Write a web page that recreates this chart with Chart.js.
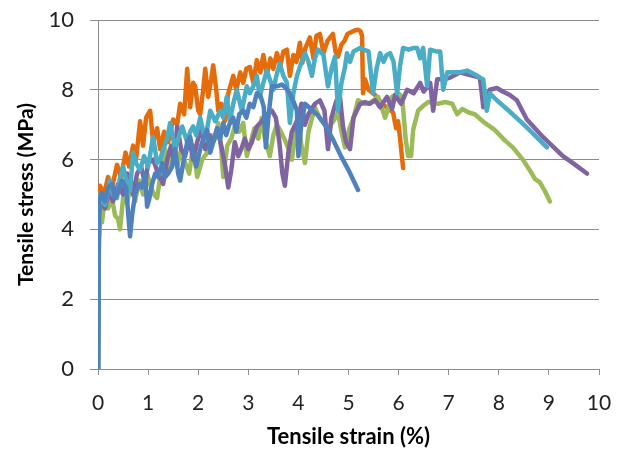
<!DOCTYPE html>
<html>
<head>
<meta charset="utf-8">
<script src="https://cdn.jsdelivr.net/npm/chart.js@4/dist/chart.umd.min.js"></script>
<style>
  html, body { margin: 0; padding: 0; background: #fff; }
  #wrap { width: 626px; height: 456px; }
</style>
</head>
<body>
<div id="wrap"><canvas id="chart" width="626" height="456"></canvas></div>
<script>
// Axis ranges and ticks
const strainTicks = [0, 1, 2, 3, 4, 5, 6, 7, 8, 9, 10];
const stressTicks = [0, 2, 4, 6, 8, 10];

// Series values: [strain %, stress MPa]
const orangeSeries = [
  [0, 0], [0.02, 5.0], [0.04, 5.25], [0.12, 5.0], [0.2, 5.5], [0.28, 5.2], [0.38, 5.85], [0.46, 5.5],
  [0.55, 6.2], [0.62, 5.8], [0.7, 6.4], [0.76, 6.0], [0.84, 7.1], [0.9, 6.4], [0.96, 7.2], [1.04, 7.4],
  [1.1, 6.5], [1.18, 6.9], [1.24, 6.3], [1.32, 6.8], [1.4, 6.5], [1.5, 7.15], [1.58, 7.0], [1.64, 7.6],
  [1.72, 7.3], [1.78, 8.6], [1.84, 7.5], [1.9, 8.2], [1.94, 8.1], [2.0, 7.4], [2.04, 7.3], [2.1, 8.0],
  [2.14, 8.6], [2.2, 7.8], [2.26, 8.3], [2.3, 8.7], [2.36, 8.0], [2.4, 7.4], [2.46, 7.6], [2.53, 7.1],
  [2.6, 7.9], [2.7, 8.4], [2.76, 8.0], [2.84, 8.5], [2.9, 8.2], [2.96, 8.6], [3.03, 8.65], [3.1, 8.2],
  [3.17, 8.85], [3.24, 8.5], [3.3, 9.0], [3.37, 8.4], [3.44, 8.9], [3.5, 8.6], [3.57, 9.05], [3.64, 8.7],
  [3.7, 9.1], [3.77, 9.15], [3.83, 8.4], [3.9, 9.0], [3.96, 8.8], [4.03, 9.35], [4.08, 8.77], [4.14, 9.2],
  [4.23, 9.5], [4.3, 8.9], [4.36, 9.55], [4.43, 9.6], [4.5, 9.05], [4.58, 9.4], [4.69, 9.6], [4.74, 9.1],
  [4.79, 8.95], [4.86, 9.3], [4.92, 9.4], [4.98, 9.6], [5.05, 9.65], [5.12, 9.7], [5.19, 9.72], [5.24, 9.68],
  [5.27, 9.55], [5.29, 7.9], [5.33, 8.3], [5.4, 8.0], [5.53, 7.85], [5.67, 7.6], [5.8, 7.45], [5.89, 7.35],
  [5.95, 6.9], [5.99, 7.1], [6.03, 6.6], [6.09, 5.76]
];

const cyanSeries = [
  [0, 0], [0.02, 4.6], [0.04, 5.0], [0.14, 4.7], [0.24, 5.4], [0.3, 5.0], [0.38, 4.9], [0.44, 5.5],
  [0.5, 5.8], [0.58, 5.3], [0.64, 5.1], [0.7, 6.2], [0.76, 5.9], [0.84, 5.7], [0.92, 6.1], [1.0, 5.8],
  [1.1, 6.65], [1.18, 5.9], [1.24, 6.0], [1.3, 6.3], [1.38, 6.6], [1.44, 7.05], [1.54, 6.3], [1.6, 6.6],
  [1.68, 6.95], [1.78, 6.5], [1.84, 6.8], [1.9, 6.95], [1.96, 6.7], [2.04, 7.2], [2.14, 6.55], [2.24, 7.4],
  [2.34, 7.1], [2.44, 7.4], [2.5, 7.2], [2.57, 7.8], [2.63, 7.1], [2.7, 7.6], [2.77, 8.0], [2.87, 7.4],
  [2.97, 8.1], [3.03, 7.9], [3.1, 8.1], [3.17, 8.4], [3.23, 7.8], [3.3, 8.2], [3.37, 8.55], [3.5, 8.0],
  [3.56, 8.4], [3.63, 8.75], [3.7, 8.4], [3.77, 8.2], [3.83, 7.05], [3.9, 7.9], [3.97, 8.4], [4.04, 8.7],
  [4.13, 9.05], [4.2, 8.8], [4.27, 8.4], [4.33, 8.9], [4.39, 9.15], [4.5, 9.0], [4.59, 8.1], [4.66, 8.6],
  [4.73, 8.95], [4.79, 7.4], [4.86, 8.2], [4.93, 8.65], [4.97, 9.05], [5.03, 8.8], [5.1, 9.1], [5.23, 9.2],
  [5.3, 9.15], [5.4, 9.1], [5.49, 7.9], [5.56, 8.6], [5.63, 9.05], [5.7, 8.8], [5.76, 9.0], [5.83, 9.05],
  [5.9, 8.8], [5.97, 7.9], [6.03, 8.7], [6.09, 9.2], [6.2, 9.15], [6.3, 9.2], [6.37, 9.2], [6.43, 8.9],
  [6.49, 9.2], [6.57, 8.1], [6.63, 9.15], [6.75, 9.1], [6.83, 9.1], [6.89, 8.0], [6.97, 8.5], [7.09, 8.5],
  [7.2, 8.5], [7.37, 8.55], [7.57, 8.4], [7.69, 8.3], [7.76, 7.4], [7.82, 7.9], [7.96, 7.7], [8.2, 7.4],
  [8.5, 7.0], [8.75, 6.65], [8.96, 6.35]
];

const blueSeries = [
  [0, 0], [0.02, 4.8], [0.08, 5.05], [0.14, 4.8], [0.2, 5.2], [0.28, 5.3], [0.34, 4.9], [0.38, 5.0],
  [0.48, 5.4], [0.56, 5.2], [0.6, 4.5], [0.64, 3.8], [0.68, 4.4], [0.74, 5.0], [0.82, 5.3], [0.88, 5.2],
  [0.94, 5.6], [0.98, 4.65], [1.02, 4.85], [1.08, 5.3], [1.14, 5.6], [1.2, 5.5], [1.28, 5.9], [1.34, 5.5],
  [1.4, 5.6], [1.48, 5.8], [1.54, 6.3], [1.6, 5.6], [1.64, 5.4], [1.7, 5.9], [1.78, 6.5], [1.84, 6.65],
  [1.9, 6.2], [1.96, 5.8], [2.04, 6.3], [2.1, 6.6], [2.18, 6.85], [2.24, 6.2], [2.3, 6.5], [2.38, 6.9],
  [2.44, 6.6], [2.5, 7.05], [2.56, 6.7], [2.62, 7.0], [2.7, 7.2], [2.76, 6.8], [2.82, 7.3], [2.9, 7.4],
  [2.96, 7.2], [3.03, 7.6], [3.1, 7.5], [3.17, 7.9], [3.25, 7.8], [3.31, 7.5], [3.35, 6.35], [3.4, 7.2],
  [3.47, 8.1], [3.57, 8.1], [3.67, 8.15], [3.75, 8.05], [3.83, 7.9], [3.92, 7.6], [3.97, 7.4], [4.0, 6.1],
  [4.05, 6.9], [4.13, 7.6], [4.25, 7.45], [4.4, 7.25], [4.55, 6.95], [4.7, 6.55], [4.85, 6.1], [5.0, 5.7],
  [5.1, 5.4], [5.19, 5.13]
];

const purpleSeries = [
  [0, 0], [0.02, 4.4], [0.06, 4.9], [0.14, 4.6], [0.22, 5.1], [0.3, 4.8], [0.4, 5.3], [0.5, 5.0],
  [0.58, 5.6], [0.64, 5.5], [0.7, 5.0], [0.78, 5.6], [0.86, 5.8], [0.94, 5.3], [1.0, 5.9], [1.1, 6.0],
  [1.2, 5.6], [1.3, 5.3], [1.38, 6.0], [1.46, 6.4], [1.52, 5.9], [1.58, 6.95], [1.66, 6.3], [1.74, 6.1],
  [1.82, 6.6], [1.9, 6.0], [1.98, 6.5], [2.06, 6.9], [2.14, 6.3], [2.22, 6.7], [2.3, 6.5], [2.38, 6.9],
  [2.46, 6.4], [2.54, 5.8], [2.6, 5.2], [2.66, 5.7], [2.73, 6.5], [2.8, 6.1], [2.86, 6.3], [2.93, 6.6],
  [3.0, 6.3], [3.07, 6.5], [3.17, 6.95], [3.27, 7.1], [3.37, 7.3], [3.47, 7.4], [3.55, 7.2], [3.62, 6.5],
  [3.68, 5.6], [3.73, 5.25], [3.8, 6.2], [3.87, 6.8], [4.0, 7.2], [4.06, 7.6], [4.13, 7.0], [4.2, 7.3],
  [4.33, 7.6], [4.43, 7.7], [4.52, 7.4], [4.59, 6.3], [4.66, 7.2], [4.76, 7.7], [4.83, 7.8], [4.89, 6.95],
  [4.95, 6.5], [5.03, 6.3], [5.1, 7.2], [5.23, 7.6], [5.33, 7.65], [5.43, 7.6], [5.53, 7.7], [5.63, 7.5],
  [5.77, 7.8], [5.87, 7.45], [5.93, 7.85], [6.05, 7.6], [6.17, 8.0], [6.3, 7.9], [6.43, 8.2], [6.5, 7.95],
  [6.63, 8.2], [6.69, 7.4], [6.77, 8.3], [6.9, 8.3], [7.03, 8.35], [7.23, 8.5], [7.35, 8.45], [7.62, 8.35],
  [7.66, 7.9], [7.69, 7.5], [7.73, 7.6], [7.82, 8.0], [7.96, 8.05], [8.08, 7.95], [8.22, 7.85], [8.36, 7.7],
  [8.56, 7.15], [8.88, 6.65], [9.28, 6.1], [9.48, 5.9], [9.76, 5.6]
];

const greenSeries = [
  [0, 0], [0.02, 3.7], [0.05, 4.4], [0.08, 4.2], [0.14, 5.0], [0.2, 4.6], [0.28, 4.9], [0.34, 4.4],
  [0.4, 4.3], [0.44, 4.0], [0.5, 4.9], [0.58, 4.75], [0.66, 5.3], [0.74, 4.8], [0.82, 5.4], [0.9, 5.0],
  [0.98, 5.6], [1.06, 5.2], [1.12, 5.0], [1.18, 4.9], [1.26, 5.7], [1.34, 6.3], [1.42, 5.7], [1.5, 6.2],
  [1.58, 5.8], [1.66, 6.3], [1.74, 5.9], [1.82, 5.6], [1.9, 6.4], [1.98, 5.5], [2.08, 6.0], [2.18, 6.2],
  [2.26, 6.7], [2.34, 6.6], [2.4, 7.05], [2.46, 6.3], [2.5, 5.5], [2.58, 6.4], [2.66, 6.6], [2.74, 7.0],
  [2.82, 6.8], [2.9, 7.05], [2.97, 6.1], [3.05, 6.5], [3.12, 6.9], [3.2, 6.6], [3.27, 7.2], [3.33, 6.6],
  [3.39, 6.3], [3.43, 6.1], [3.5, 6.7], [3.57, 7.0], [3.65, 6.8], [3.75, 6.5], [3.83, 6.2], [3.87, 6.0],
  [3.93, 6.6], [4.0, 7.15], [4.06, 6.4], [4.13, 5.9], [4.2, 6.8], [4.33, 7.5], [4.42, 7.2], [4.59, 6.9],
  [4.7, 7.1], [4.79, 7.35], [4.86, 6.8], [4.93, 6.35], [5.02, 6.9], [5.1, 7.2], [5.19, 7.7], [5.3, 7.6],
  [5.4, 7.6], [5.5, 7.7], [5.59, 7.8], [5.66, 7.5], [5.73, 7.2], [5.8, 7.5], [5.87, 7.8], [5.99, 7.9],
  [6.07, 7.8], [6.1, 7.3], [6.14, 6.6], [6.19, 6.1], [6.25, 6.1], [6.29, 6.85], [6.39, 7.4], [6.5, 7.55],
  [6.59, 7.65], [6.79, 7.6], [6.93, 7.65], [7.07, 7.6], [7.17, 7.3], [7.27, 7.45], [7.4, 7.35], [7.52, 7.3],
  [7.72, 7.05], [7.92, 6.85], [8.12, 6.55], [8.28, 6.35], [8.48, 6.0], [8.66, 5.6], [8.72, 5.45], [8.82, 5.35],
  [8.92, 5.1], [9.02, 4.8]
];

const toPoints = arr => arr.map(p => ({ x: p[0], y: p[1] }));

const makeSet = (series, color) => ({
  data: toPoints(series),
  borderColor: color,
  backgroundColor: color,
  borderWidth: 4.5,
  borderJoinStyle: 'round',
  borderCapStyle: 'round',
  pointRadius: 0,
  tension: 0,
  fill: false
});

const gridColor = '#8c8c8c';
const fontFamily = 'Lato, "Liberation Sans", sans-serif';

// first dataset is drawn on top
new Chart(document.getElementById('chart'), {
  type: 'line',
  data: {
    datasets: [
      makeSet(blueSeries, '#4f81bd'),
      makeSet(cyanSeries, '#4bacc6'),
      makeSet(purpleSeries, '#8064a2'),
      makeSet(greenSeries, '#9bbb59'),
      makeSet(orangeSeries, '#e46c0a')
    ]
  },
  options: {
    responsive: false,
    animation: false,
    layout: { padding: { top: 20, right: 27, left: 0, bottom: 0 } },
    plugins: { legend: { display: false }, tooltip: { enabled: false } },
    scales: {
      x: {
        type: 'linear',
        min: strainTicks[0],
        max: strainTicks[strainTicks.length - 1],
        afterBuildTicks: s => { s.ticks = strainTicks.map(v => ({ value: v })); },
        afterFit: s => { s.height = 87; s.paddingLeft = 0; s.paddingRight = 0; },
        grid: { drawOnChartArea: false, drawTicks: true, tickLength: 6, color: gridColor },
        border: { display: true, color: gridColor },
        ticks: { font: { family: fontFamily, size: 21 }, color: '#222', padding: 16, maxRotation: 0 },
        title: {
          display: true,
          text: 'Tensile strain (%)',
          font: { family: fontFamily, size: 22, weight: 'bold' },
          color: '#000',
          padding: { top: 0, bottom: 6 }
        }
      },
      y: {
        min: stressTicks[0],
        max: stressTicks[stressTicks.length - 1],
        afterBuildTicks: s => { s.ticks = stressTicks.map(v => ({ value: v })); },
        afterFit: s => { s.width = 98; s.paddingTop = 0; s.paddingBottom = 0; },
        grid: { color: gridColor, tickLength: 8, drawTicks: true },
        border: { display: true, color: gridColor },
        ticks: { font: { family: fontFamily, size: 22 }, color: '#222', padding: 16 },
        title: {
          display: true,
          text: 'Tensile stress (MPa)',
          font: { family: fontFamily, size: 21, weight: 'bold' },
          color: '#000',
          padding: { top: 14, bottom: 0 }
        }
      }
    }
  }
});
</script>
</body>
</html>
